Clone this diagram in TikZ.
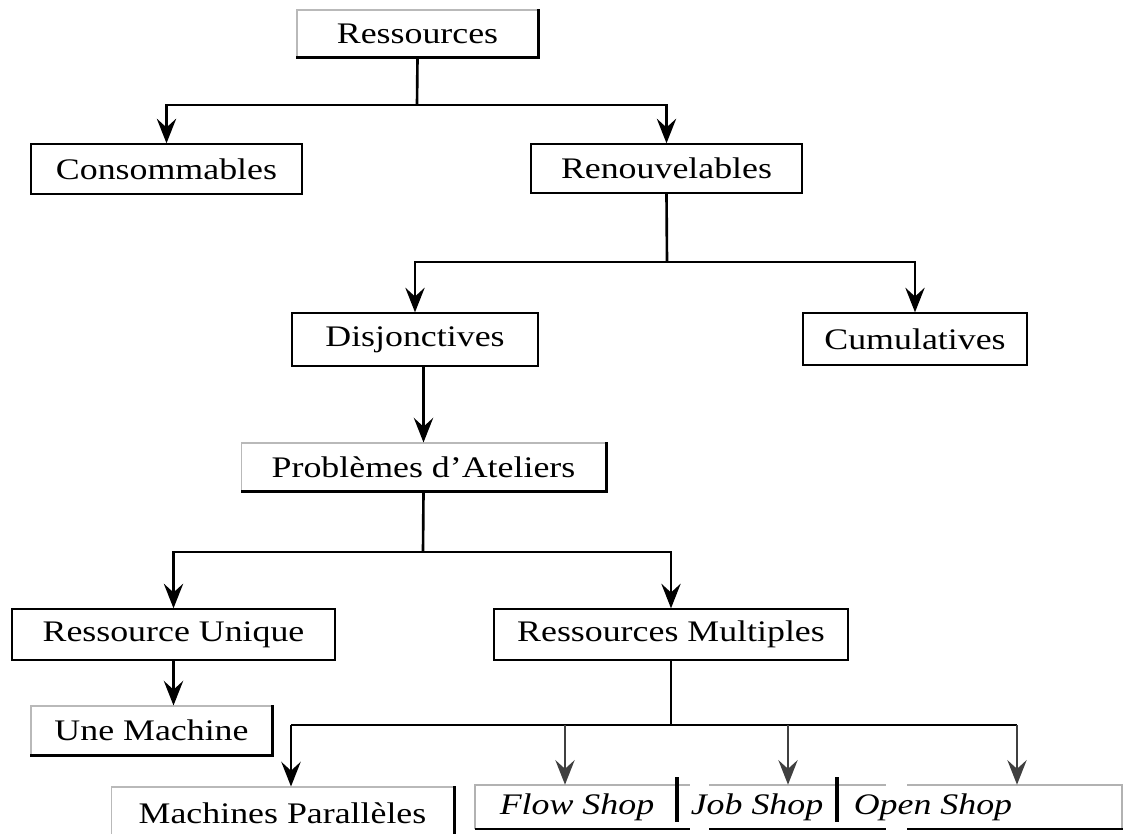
\documentclass[tikz,border=0pt]{standalone}
\usepackage{fontspec}
\setmainfont[FakeStretch=1.2]{Liberation Serif}
\usetikzlibrary{arrows.meta}
\tikzset{
>={Stealth[length=14pt, width=11pt, inset=5pt]}, % bold arrow heads
every node/.style={font=\fontsize{17}{20}\selectfont, inner sep=0pt},
box/.style={draw, line width=0.8pt}, % plain boxes
shadowbox/.style={draw=gray!55, line width=0.6pt,
  append after command={(\tikzlastnode.north east) edge[draw=black, line width=1.6pt, to path={|- (\tikztotarget)}] (\tikzlastnode.south west)}},
conn/.style={line width=1.5pt},
thinconn/.style={line width=1pt, draw=black!75},
topline/.style={draw=gray!60, line width=0.7pt},
botline/.style={draw=black, line width=1.6pt},
}

\begin{document}
\begin{tikzpicture}[x=0.02cm, y=-0.02cm]
\clip (0,0) rectangle (1123,833);
\fill[white] (0,0) rectangle (1123,833);

% boxes
\node[shadowbox, minimum width=4.82cm, minimum height=0.94cm] (res) at (417.5,33.5) {Ressources};
\node[box, minimum width=5.42cm, minimum height=1.00cm] (cons) at (166.5,169) {Consommables};
\node[box, minimum width=5.42cm, minimum height=0.98cm] (renouv) at (666.5,168.5) {Renouvelables};
\node[box, minimum width=4.92cm, minimum height=1.06cm] (disj) at (415,339.5) {Disjonctives};
\node[box, minimum width=4.48cm, minimum height=1.04cm] (cumul) at (915,339) {Cumulatives};
\node[shadowbox, minimum width=7.30cm, minimum height=0.96cm] (prob) at (423.5,467) {Problèmes d’Ateliers};
\node[box, minimum width=6.46cm, minimum height=1.02cm] (unique) at (173.5,634.5) {Ressource Unique};
\node[box, minimum width=7.08cm, minimum height=1.02cm] (multi) at (671,634.5) {Ressources Multiples};
\node[shadowbox, minimum width=4.82cm, minimum height=0.98cm] (machine) at (151.5,730.5) {Une Machine};
\node[shadowbox, minimum width=6.86cm, minimum height=1.06cm] (para) at (282.5,813.5) {Machines Parallèles};
\node[minimum height=0.88cm] (flow) at (577,807) {\itshape Flow Shop};
\node[minimum height=0.88cm] (job) at (757,807) {\itshape Job Shop};
\node[minimum height=0.88cm] (open) at (933,807) {\itshape Open Shop};

% shop boxes, open at the sides
\draw[topline] (475,829) -- (475,785) -- (690,785);
\draw[topline] (709,785) -- (886,785);
\draw[topline] (907,785) -- (1122,785) -- (1122,829);
\draw[botline] (475,829) -- (690,829);
\draw[botline] (709,829) -- (886,829);
\draw[botline] (907,829) -- (1123,829);
\draw[line width=2.3pt] (677,777) -- (677,822);
\draw[line width=2.3pt] (837,777) -- (837,822);

% junctions
\coordinate (j1) at (417,105);
\coordinate (j2) at (667,262);
\coordinate (j3) at (423,552);
\coordinate (j4) at (671,725);
\coordinate (d1) at (291,725);
\coordinate (d2) at (565,725);
\coordinate (d3) at (788,725);
\coordinate (d4) at (1017,725);

% connectors
\draw[conn] (res.south) -- (j1);
\draw[conn, ->] (j1) -| (cons);
\draw[conn, ->] (j1) -| (renouv);
\draw[conn] (renouv.south) -- (j2);
\draw[conn, ->] (j2) -| (disj);
\draw[conn, ->] (j2) -| (cumul);
\draw[conn, ->] (prob.north |- disj.south) -- (prob.north);
\draw[conn] (prob.south) -- (j3);
\draw[conn, ->] (j3) -| (unique);
\draw[conn, ->] (j3) -| (multi);
\draw[conn, ->] (unique.south) -- (unique.south |- machine.north);
\draw[conn] (multi.south) -- (j4);
\draw[conn] (d1) -- (d4);
\draw[conn, ->] (d1) -- (d1 |- para.north);
\draw[thinconn, ->] (d2) -- (d2 |- flow.north);
\draw[thinconn, ->] (d3) -- (d3 |- job.north);
\draw[thinconn, ->] (d4) -- (d4 |- open.north);
\end{tikzpicture}
\end{document}
